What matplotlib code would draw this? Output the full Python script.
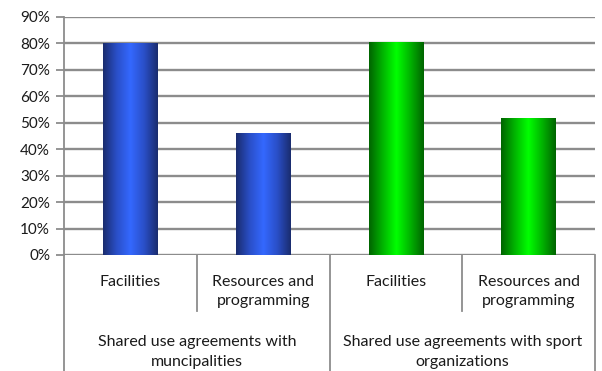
import matplotlib
matplotlib.use("Agg")
import matplotlib.pyplot as plt
import matplotlib.transforms as mtransforms
from matplotlib.colors import LinearSegmentedColormap
import numpy as np

# ---------- data ----------
groups = ["Shared use agreements with\nmuncipalities",
          "Shared use agreements with sport\norganizations"]
categories = ["Facilities", "Resources and\nprogramming",
              "Facilities", "Resources and\nprogramming"]
values = [0.80, 0.46, 0.805, 0.515]
bar_group = [0, 0, 1, 1]

# ---------- style ----------
grid_gray = "#8c8c8c"
text_color = "#1a1a1a"
blue_map = LinearSegmentedColormap.from_list(
    "blue_bar", ["#1a2c6e", "#2a4fc8", "#3468ff", "#2a4fc8", "#1a2c6e"])
green_map = LinearSegmentedColormap.from_list(
    "green_bar", ["#006400", "#00b400", "#00ff00", "#00b400", "#006400"])
group_maps = [blue_map, green_map]
bar_width = 0.41

plt.rcParams["font.family"] = ["Lato", "DejaVu Sans"]
fig = plt.figure(figsize=(6.02, 3.71), dpi=100)
W, H = 602, 371
ax = fig.add_axes([64 / W, (H - 255) / H, (595 - 64) / W, (255 - 17) / H])

x = np.arange(len(values))
ax.set_xlim(-0.5, len(values) - 0.5)
ax.set_ylim(0, 0.9)

# horizontal gridlines
yticks = np.arange(0, 0.91, 0.1)
for yv in yticks:
    ax.axhline(yv, color=grid_gray, lw=1.7, zorder=1)

# bars with a cylinder-style horizontal gradient
grad = np.linspace(0, 1, 256).reshape(1, -1)
for xi, v, g in zip(x, values, bar_group):
    ax.imshow(grad, cmap=group_maps[g], aspect="auto", zorder=2,
              extent=(xi - bar_width / 2, xi + bar_width / 2, 0, v))
ax.set_xlim(-0.5, len(values) - 0.5)
ax.set_ylim(0, 0.9)

ax.set_yticks(yticks)
ax.set_yticklabels([f"{int(round(t * 100))}%" for t in yticks],
                   fontsize=11, color=text_color)
ax.tick_params(axis="y", length=6, width=1.3, color=grid_gray, pad=4)
ax.set_xticks([])
for s in ["top", "right", "bottom"]:
    ax.spines[s].set_visible(False)
ax.spines["left"].set_color(grid_gray)
ax.spines["left"].set_linewidth(1.3)

# category table below the axis
trans = mtransforms.blended_transform_factory(ax.transData, fig.transFigure)
inner_bottom = (H - 311) / H
for edge in np.arange(-0.5, len(values), 1.0):
    is_group_edge = int(edge + 0.5) % 2 == 0
    y0 = 0 if is_group_edge else inner_bottom
    ax.plot([edge, edge], [y0, (H - 255) / H], transform=trans,
            color=grid_gray, lw=1.3, clip_on=False)

for xi, lab in zip(x, categories):
    ax.text(xi, (H - 275) / H, lab, transform=trans, ha="center", va="top",
            fontsize=11.5, color=text_color, linespacing=1.5)

for gi, lab in enumerate(groups):
    ax.text(gi * 2 + 0.5, (H - 335) / H, lab, transform=trans, ha="center",
            va="top", fontsize=11.5, color=text_color, linespacing=1.55)

fig.savefig("out.png", dpi=100)
